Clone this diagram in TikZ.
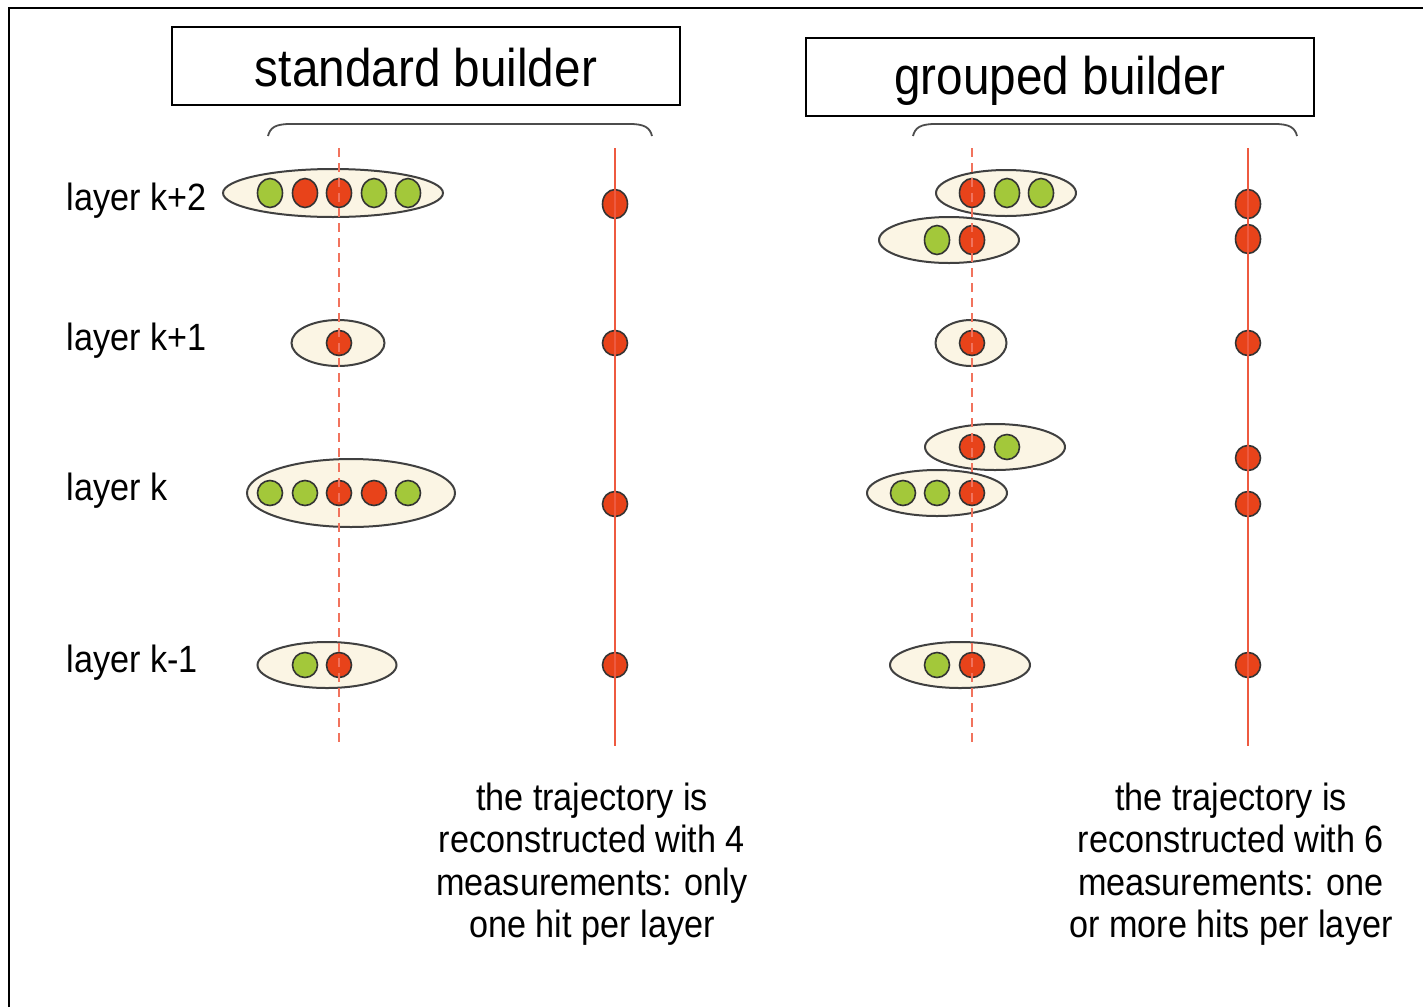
\documentclass[tikz,border=0pt]{standalone}
\usepackage{fontspec}
\setmainfont{Liberation Sans}
\newfontfamily\narrowfont[FakeStretch=0.9]{Liberation Sans}
\usetikzlibrary{shapes.geometric}
\definecolor{hitred}{HTML}{E8431A}
\definecolor{hitgreen}{HTML}{A3C83A}
\definecolor{cream}{HTML}{FBF5E4}
\definecolor{trackred}{HTML}{EE5A40}
\tikzset{
  group/.style={ellipse, draw=black!75, line width=2pt, fill=cream, inner sep=0pt},
  rhit/.style={ellipse, draw=black!80, line width=1.6pt, fill=hitred, minimum width=25pt, minimum height=25pt, inner sep=0pt},
  ghit/.style={ellipse, draw=black!80, line width=1.6pt, fill=hitgreen, minimum width=25pt, minimum height=25pt, inner sep=0pt},
  tall/.style={minimum height=29pt},
  titlebox/.style={draw, line width=1.4pt, minimum width=508pt, minimum height=78pt, font=\narrowfont\fontsize{53}{60}\selectfont},
  layerlab/.style={anchor=west, font=\narrowfont\fontsize{38}{44}\selectfont},
  note/.style={align=center, font=\narrowfont\fontsize{38}{42.5}\selectfont},
  dashtrack/.style={draw=trackred!85, line width=2.5pt, dash pattern=on 9pt off 6pt},
  soltrack/.style={draw=trackred, line width=2.5pt},
  bracestyle/.style={draw=black!70, line width=1.8pt},
}
\begin{document}
\begin{tikzpicture}[x=1pt,y=-1pt]
\useasboundingbox (0,0) rectangle (1423,1007);
% outer frame (left and top edges visible)
\draw[line width=1.5pt] (9,1007) -- (9,8) -- (1423,8);

% titles
\node[titlebox] (t1) at (426,66) {};
\node[font=\narrowfont\fontsize{53}{60}\selectfont] (t1t) at (426,68) {standard builder};
\node[titlebox] (t2) at (1060,77) {};
\node[font=\narrowfont\fontsize{53}{60}\selectfont] (t2t) at (1060,81) {grouped builder};

% braces
\coordinate (b1l) at (268,136); \coordinate (b1r) at (652,136);
\coordinate (b2l) at (913,136); \coordinate (b2r) at (1297,136);
\draw[bracestyle] (b1l) .. controls (270,128) and (275,124) .. (290,124) -- (630,124) .. controls (645,124) and (650,128) .. (b1r);
\draw[bracestyle] (b2l) .. controls (915,128) and (920,124) .. (935,124) -- (1275,124) .. controls (1290,124) and (1295,128) .. (b2r);

% layer labels
\node[layerlab] (l2) at (63,201) {layer k+2};
\node[layerlab] (l1) at (63,341) {layer k+1};
\node[layerlab] (l0) at (63,491) {layer k};
\node[layerlab] (lm) at (63,663) {layer k-1};

% track coordinates
\coordinate (d1t) at (339,148); \coordinate (d1b) at (339,746);
\coordinate (s1t) at (615,148); \coordinate (s1b) at (615,746);
\coordinate (d2t) at (972,148); \coordinate (d2b) at (972,746);
\coordinate (s2t) at (1248,148); \coordinate (s2b) at (1248,746);

% ---- standard builder groups
\node[group, minimum width=220pt, minimum height=48pt] (e1) at (333,193) {};
\node[ghit,tall] (a1) at (270,193) {};
\node[rhit,tall] (a2) at (305,193) {};
\node[rhit,tall] (a3) at (339,193) {};
\node[ghit,tall] (a4) at (374,193) {};
\node[ghit,tall] (a5) at (408,193) {};

\node[group, minimum width=93pt, minimum height=46pt] (e2) at (338,343) {};
\node[rhit] (b1) at (339,343) {};

\node[group, minimum width=208pt, minimum height=68pt] (e3) at (351,493) {};
\node[ghit] (c1) at (270,493) {};
\node[ghit] (c2) at (305,493) {};
\node[rhit] (c3) at (339,493) {};
\node[rhit] (c4) at (374,493) {};
\node[ghit] (c5) at (408,493) {};

\node[group, minimum width=139pt, minimum height=46pt] (e4) at (327,665) {};
\node[ghit] (m1) at (305,665) {};
\node[rhit] (m2) at (339,665) {};

% ---- grouped builder groups
\node[group, minimum width=140pt, minimum height=46pt] (f1) at (1006,193) {};
\node[rhit,tall] (p1) at (972,193) {};
\node[ghit,tall] (p2) at (1007,193) {};
\node[ghit,tall] (p3) at (1041,193) {};

\node[group, minimum width=140pt, minimum height=46pt] (f2) at (949,240) {};
\node[ghit,tall] (q1) at (937,240) {};
\node[rhit,tall] (q2) at (972,240) {};

\node[group, minimum width=71pt, minimum height=46pt] (f3) at (971,343) {};
\node[rhit] (r1) at (972,343) {};

\node[group, minimum width=140pt, minimum height=46pt] (f4) at (995,447) {};
\node[rhit] (u1) at (972,447) {};
\node[ghit] (u2) at (1007,447) {};

\node[group, minimum width=140pt, minimum height=46pt] (f5) at (937,493) {};
\node[ghit] (v1) at (903,493) {};
\node[ghit] (v2) at (937,493) {};
\node[rhit] (v3) at (972,493) {};

\node[group, minimum width=140pt, minimum height=46pt] (f6) at (960,665) {};
\node[ghit] (w1) at (937,665) {};
\node[rhit] (w2) at (972,665) {};

% ---- reconstructed track hits
\node[rhit,tall] (x1) at (615,204) {};
\node[rhit] (x2) at (615,343) {};
\node[rhit] (x3) at (615,504) {};
\node[rhit] (x4) at (615,665) {};

\node[rhit,tall] (y1) at (1248,204) {};
\node[rhit,tall] (y2) at (1248,239) {};
\node[rhit] (y3) at (1248,343) {};
\node[rhit] (y4) at (1248,458) {};
\node[rhit] (y5) at (1248,504) {};
\node[rhit] (y6) at (1248,665) {};

% ---- tracks (drawn on top)
\draw[dashtrack] (d1t) -- (d1b);
\draw[soltrack] (s1t) -- (s1b);
\draw[dashtrack] (d2t) -- (d2b);
\draw[soltrack] (s2t) -- (s2b);

% ---- notes
\node[note] (n1) at (592,864) {the trajectory is\\reconstructed with 4\\measurements: only\\one hit per layer};
\node[note] (n2) at (1231,864) {the trajectory is\\reconstructed with 6\\measurements: one\\or more hits per layer};
\end{tikzpicture}
\end{document}
